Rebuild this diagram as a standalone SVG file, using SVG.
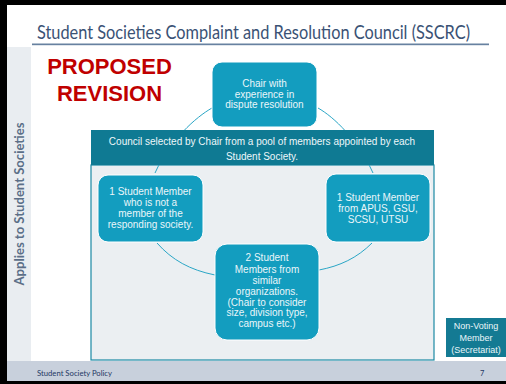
<svg xmlns="http://www.w3.org/2000/svg" width="506" height="384" viewBox="0 0 506 384">
<style>
.box{fill:#139dbf;stroke:#ffffff;stroke-width:1}
.bt{font-family:"Liberation Sans",Arial,sans-serif;font-size:10px;fill:#eaf6fa;text-anchor:middle}
.arc{fill:none;stroke:#2aa6c6;stroke-width:1}
</style>
<rect x="0" y="0" width="506" height="384" fill="#000"/>
<rect x="7" y="5" width="499" height="376" fill="#fff"/>
<g id="title">
<text x="37" y="39" font-family="Lato,'Open Sans',sans-serif" font-size="19" fill="#3a5275" textLength="433" lengthAdjust="spacingAndGlyphs">Student Societies Complaint and Resolution Council (SSCRC)</text>
<rect x="32" y="43.5" width="457" height="1.7" fill="#6781a0"/>
</g>
<g id="sidebar">
<rect x="7" y="47" width="24" height="314" fill="#e9edf1"/>
<text transform="translate(24,204) rotate(-90)" text-anchor="middle" font-family="Lato,'Open Sans',sans-serif" font-weight="bold" font-size="12.5" fill="#5b6f88" textLength="163" lengthAdjust="spacingAndGlyphs">Applies to Student Societies</text>
</g>
<g id="footer">
<rect x="7" y="361" width="499" height="20" fill="#c8d0dc"/>
<text x="37" y="376" font-family="Lato,'Open Sans',sans-serif" font-size="7.5" fill="#1f3864" textLength="75" lengthAdjust="spacingAndGlyphs">Student Society Policy</text>
<text x="480" y="376" font-family="Lato,'Open Sans',sans-serif" font-size="7.5" fill="#1f3864">7</text>
</g>
<g id="proposed">
<text x="109.5" y="74" text-anchor="middle" font-family="'Liberation Sans',Arial,sans-serif" font-weight="bold" font-size="22" fill="#c00000">PROPOSED</text>
<text x="109.5" y="100.5" text-anchor="middle" font-family="'Liberation Sans',Arial,sans-serif" font-weight="bold" font-size="22" fill="#c00000">REVISION</text>
</g>
<g id="panel">
<rect x="91" y="165" width="343" height="195" fill="#ebeff2" stroke="#1b89a4" stroke-width="1.2"/>
</g>
<g id="connectors">
<path class="arc" d="M212,108 C196,117 170,140 155,173"/>
<path class="arc" d="M318,108 C334,117 358,140 373,173"/>
<path class="arc" d="M157,243 C172,260 190,270 215,275"/>
<path class="arc" d="M372,243 C357,258 340,266 319,270"/>
</g>
<g id="banner">
<rect x="91" y="130" width="343" height="35" fill="#0f7a93"/>
<text x="262" y="145" text-anchor="middle" font-family="'Liberation Sans',Arial,sans-serif" font-size="10" fill="#eef7fa">Council selected by Chair from a pool of members appointed by each</text>
<text x="262" y="160" text-anchor="middle" font-family="'Liberation Sans',Arial,sans-serif" font-size="10" fill="#eef7fa">Student Society.</text>
</g>
<g id="chair">
<rect class="box" x="212" y="62" width="105" height="65" rx="10"/>
<text class="bt" x="264.5" y="87">Chair with</text>
<text class="bt" x="264.5" y="97.5">experience in</text>
<text class="bt" x="264.5" y="108">dispute resolution</text>
</g>
<g id="left-member">
<rect class="box" x="98" y="175" width="105" height="67" rx="10"/>
<text class="bt" x="150.5" y="195">1 Student Member</text>
<text class="bt" x="150.5" y="206">who is not a</text>
<text class="bt" x="150.5" y="217">member of the</text>
<text class="bt" x="150.5" y="228">responding society.</text>
</g>
<g id="right-member">
<rect class="box" x="326" y="174" width="104" height="68" rx="10"/>
<text class="bt" x="378" y="201">1 Student Member</text>
<text class="bt" x="378" y="212">from APUS, GSU,</text>
<text class="bt" x="378" y="223">SCSU, UTSU</text>
</g>
<g id="bottom-member">
<rect class="box" x="215" y="244" width="104" height="96" rx="12"/>
<text class="bt" x="267" y="261">2 Student</text>
<text class="bt" x="267" y="273">Members from</text>
<text class="bt" x="267" y="284">similar</text>
<text class="bt" x="267" y="295">organizations.</text>
<text class="bt" x="267" y="305.5">(Chair to consider</text>
<text class="bt" x="267" y="316">size, division type,</text>
<text class="bt" x="267" y="326.5">campus etc.)</text>
</g>
<g id="non-voting">
<rect x="446" y="318" width="60" height="39" fill="#147a93"/>
<text x="476" y="329" text-anchor="middle" font-family="'Liberation Sans',Arial,sans-serif" font-size="9" fill="#eaf6fa">Non-Voting</text>
<text x="476" y="341" text-anchor="middle" font-family="'Liberation Sans',Arial,sans-serif" font-size="9" fill="#eaf6fa">Member</text>
<text x="476" y="353" text-anchor="middle" font-family="'Liberation Sans',Arial,sans-serif" font-size="9" fill="#eaf6fa">(Secretariat)</text>
</g>
</svg>
